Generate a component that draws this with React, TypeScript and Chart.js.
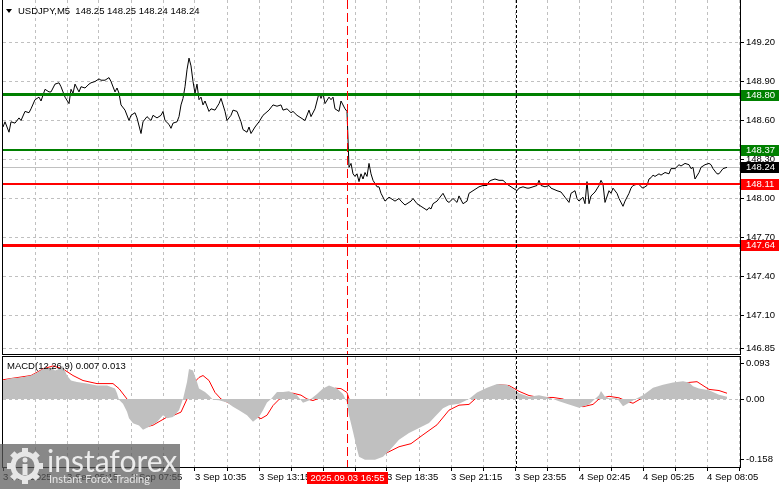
import React, { useEffect, useRef } from "react";
import { Chart, registerables } from "chart.js";

Chart.register(...registerables);

const FONT_FAMILY = "'Liberation Sans', Arial, sans-serif";
Chart.defaults.font.family = FONT_FAMILY;
Chart.defaults.font.size = 9.5;
Chart.defaults.color = "#000";

// ---------- header ----------
const symbolTitle = "USDJPY,M5";
const ohlcValues = [148.25, 148.25, 148.24, 148.24];

// ---------- price pane ----------
const priceTicks = [149.2, 148.9, 148.6, 148.3, 148.0, 147.7, 147.4, 147.1, 146.85];
const priceMin = 146.804;
const priceMax = 149.527;
const levelValues = [148.8, 148.37, 148.11, 147.64];
const lastPrice = 148.24;

const priceBars = [
  0, 1, 3, 4, 6, 8, 9, 11, 13, 14,
  16, 18, 19, 21, 23, 24, 26, 28, 29, 31,
  33, 34, 35, 36, 38, 39, 41, 43, 44, 46,
  48, 49, 51, 53, 54, 56, 57, 58, 59, 61,
  63, 64, 66, 67, 69, 70, 72, 74, 75, 77,
  79, 80, 81, 83, 84, 85, 87, 88, 89, 90,
  91, 92, 93, 94, 95, 96, 97, 98, 99, 100,
  101, 103, 104, 106, 108, 109, 111, 112, 114, 115,
  117, 119, 120, 122, 123, 124, 126, 128, 130, 133,
  135, 137, 139, 140, 142, 144, 145, 147, 149, 151,
  153, 154, 156, 158, 159, 160, 161, 163, 164, 165,
  166, 168, 169, 171, 172, 173, 174, 175, 176, 177,
  178, 179, 180, 181, 182, 183, 184, 185, 187, 188,
  189, 191, 193, 194, 196, 198, 199, 201, 203, 204,
  205, 207, 208, 210, 212, 213, 214, 215, 217, 218,
  220, 222, 223, 225, 227, 228, 230, 232, 233, 235,
  237, 238, 240, 242, 243, 244, 246, 248, 250, 252,
  253, 255, 257, 258, 260, 262, 263, 265, 267, 268,
  269, 271, 273, 274, 277, 279, 281, 283, 284, 286,
  287, 288, 290, 291, 292, 293, 294, 296, 298, 299,
  300, 301, 303, 304, 305, 307, 308, 310, 311, 313,
  314, 315, 317, 318, 319, 320, 322, 323, 324, 325,
  326, 328, 329, 331, 333, 334, 336, 338, 339, 341,
  343, 344, 345, 346, 348, 349, 351, 353, 354, 355,
  357, 358, 360, 362,
];
const priceValues = [
  148.55, 148.59, 148.51, 148.59, 148.58, 148.62, 148.6, 148.67, 148.66, 148.69,
  148.76, 148.78, 148.75, 148.84, 148.82, 148.82, 148.88, 148.89, 148.86, 148.78,
  148.73, 148.84, 148.81, 148.88, 148.82, 148.86, 148.85, 148.88, 148.89, 148.9,
  148.92, 148.91, 148.91, 148.93, 148.9, 148.82, 148.85, 148.81, 148.72, 148.68,
  148.6, 148.64, 148.66, 148.62, 148.5, 148.59, 148.63, 148.6, 148.64, 148.62,
  148.64, 148.67, 148.6, 148.57, 148.54, 148.58, 148.59, 148.63, 148.72, 148.77,
  148.86, 148.99, 149.08, 149.02, 148.9, 148.81, 148.88, 148.76, 148.78, 148.72,
  148.75, 148.67, 148.69, 148.68, 148.73, 148.77, 148.67, 148.6, 148.64, 148.68,
  148.67, 148.59, 148.53, 148.51, 148.55, 148.5, 148.55, 148.59, 148.64, 148.68,
  148.72, 148.71, 148.72, 148.68, 148.69, 148.66, 148.67, 148.64, 148.62, 148.6,
  148.68, 148.63, 148.69, 148.81, 148.77, 148.81, 148.73, 148.78, 148.76, 148.78,
  148.69, 148.67, 148.75, 148.69, 148.67, 148.24, 148.27, 148.19, 148.17, 148.19,
  148.13, 148.19, 148.15, 148.2, 148.17, 148.27, 148.19, 148.14, 148.09, 148.09,
  148.04, 147.98, 148.01, 148.0, 147.98, 148.0, 147.98, 147.95, 147.97, 147.98,
  148.0, 147.96, 147.95, 147.93, 147.91, 147.93, 147.92, 147.96, 147.98, 148.0,
  148.04, 147.98, 147.97, 148.0, 147.97, 148.02, 147.96, 147.98, 148.04, 148.06,
  148.08, 148.09, 148.1, 148.1, 148.13, 148.14, 148.15, 148.14, 148.14, 148.11,
  148.1, 148.08, 148.06, 148.08, 148.09, 148.08, 148.08, 148.09, 148.1, 148.14,
  148.1, 148.09, 148.1, 148.08, 148.06, 148.05, 148.01, 147.97, 148.04, 148.06,
  148.0, 147.98, 148.01, 147.96, 148.13, 147.96, 148.02, 148.05, 148.1, 148.14,
  148.11, 147.97, 148.06, 148.04, 148.08, 148.04, 148.0, 147.94, 147.98, 148.04,
  148.08, 148.1, 148.11, 148.11, 148.09, 148.08, 148.1, 148.15, 148.16, 148.18,
  148.17, 148.19, 148.18, 148.2, 148.19, 148.23, 148.23, 148.26, 148.25, 148.27,
  148.26, 148.23, 148.24, 148.15, 148.2, 148.24, 148.26, 148.27, 148.26, 148.23,
  148.19, 148.19, 148.23, 148.24,
];

// ---------- time axis ----------
const barsMax = 368.5;
const timeLabelBars = [0, 32, 64, 96, 128, 160, 192, 224, 256, 288, 320, 352];
const timeLabels = [
  "3 Sep 2025", "3 Sep 05:15", "3 Sep 07:55", "3 Sep 10:35", "3 Sep 13:15", "3 Sep 15:55",
  "3 Sep 18:35", "3 Sep 21:15", "3 Sep 23:55", "4 Sep 02:45", "4 Sep 05:25", "4 Sep 08:05",
];
const crosshairBar = 172;
const crosshairLabel = "2025.09.03 16:55";
const daySeparatorBar = 256.5;

// ---------- MACD pane ----------
const macdTitle = "MACD(12,26,9)";
const macdCurrent = [0.007, 0.013];
const macdTicks = [0.093, 0, -0.158];
const macdTickLabels = ["0.093", "0.00", "-0.158"];
const macdMin = -0.1766;
const macdMax = 0.1091;

const histBars = [
  0, 4, 9, 14, 17, 20, 24, 26, 28, 30,
  32, 34, 37, 42, 47, 52, 56, 57, 58, 60,
  62, 63, 65, 68, 70, 73, 77, 80, 82, 85,
  88, 90, 92, 93, 95, 97, 98, 101, 103, 105,
  108, 112, 115, 118, 122, 125, 128, 130, 132, 134,
  137, 140, 143, 147, 150, 153, 157, 160, 163, 167,
  170, 172, 173, 175, 177, 178, 181, 186, 190, 193,
  198, 203, 208, 213, 217, 220, 223, 228, 233, 237,
  242, 247, 252, 255, 258, 263, 268, 273, 278, 283,
  288, 293, 298, 299, 301, 303, 307, 310, 313, 317,
  320, 325, 330, 335, 340, 343, 345, 348, 353, 358,
  362,
];
const histValues = [
  0.048, 0.054, 0.056, 0.061, 0.069, 0.078, 0.082, 0.074, 0.078, 0.086,
  0.061, 0.048, 0.044, 0.04, 0.035, 0.035, 0.027, 0.015, -0.002, -0.012,
  -0.033, -0.05, -0.063, -0.069, -0.08, -0.072, -0.06, -0.042, -0.05, -0.047,
  -0.029, 0.0, 0.044, 0.078, 0.074, 0.044, 0.027, 0.018, 0.009, -0.002,
  -0.003, -0.009, -0.02, -0.029, -0.042, -0.059, -0.047, -0.029, -0.009, 0.0,
  0.018, 0.018, 0.02, 0.01, -0.01, -0.004, 0.013, 0.027, 0.035, 0.027,
  0.013, -0.009, -0.042, -0.085, -0.13, -0.15, -0.158, -0.158, -0.15, -0.135,
  -0.106, -0.088, -0.075, -0.062, -0.04, -0.024, -0.016, -0.012, 0.0, 0.017,
  0.029, 0.039, 0.037, 0.027, 0.015, 0.006, 0.01, 0.004, -0.006, -0.014,
  -0.023, -0.014, 0.01, 0.021, 0.006, 0.002, 0.002, -0.019, -0.01, 0.002,
  0.01, 0.029, 0.037, 0.043, 0.046, 0.043, 0.033, 0.027, 0.023, 0.011,
  0.006,
];

const signalBars = [
  0, 5, 14, 20, 25, 30, 35, 40, 47, 55,
  58, 62, 65, 69, 72, 75, 79, 82, 85, 89,
  92, 94, 98, 100, 103, 106, 109, 114, 119, 122,
  125, 129, 132, 135, 139, 142, 145, 149, 152, 155,
  159, 163, 166, 169, 172, 174, 177, 180, 184, 189,
  193, 198, 204, 210, 217, 223, 228, 233, 238, 243,
  248, 253, 258, 263, 268, 275, 280, 285, 290, 295,
  298, 303, 308, 312, 315, 318, 323, 328, 333, 338,
  343, 347, 350, 353, 358, 362,
];
const signalValues = [
  0.05, 0.054, 0.061, 0.078, 0.086, 0.078, 0.061, 0.048, 0.04, 0.04,
  0.027, 0.0, -0.034, -0.06, -0.072, -0.068, -0.056, -0.047, -0.043, -0.034,
  0.0, 0.034, 0.056, 0.061, 0.048, 0.017, 0.0, -0.013, -0.021, -0.028,
  -0.042, -0.051, -0.042, -0.017, 0.004, 0.015, 0.015, 0.01, 0.0, -0.004,
  0.004, 0.017, 0.028, 0.027, 0.017, -0.017, -0.06, -0.114, -0.15, -0.147,
  -0.137, -0.124, -0.116, -0.093, -0.067, -0.029, -0.016, -0.014, 0.009, 0.027,
  0.037, 0.035, 0.02, 0.009, 0.004, 0.004, 0.0, -0.014, -0.02, -0.014,
  0.0, 0.007, 0.003, -0.006, -0.011, -0.002, 0.014, 0.025, 0.035, 0.04,
  0.043, 0.045, 0.035, 0.025, 0.022, 0.015,
];

// ---------- styling ----------
const GRID = "#c0c0c0";
const GREEN = "#008000";
const RED = "#ff0000";
const levelColors = [GREEN, GREEN, RED, RED];
const levelWidths = [3, 2, 2, 3];
const TAG_FONT = `9.5px ${FONT_FAMILY}`;

function gridEvery16(scale: any) {
  const t: any[] = [];
  for (let v = 0; v <= barsMax; v += 16) t.push({ value: v });
  scale.ticks = t;
}

function zeroPadding(s: any) {
  s.paddingTop = 0;
  s.paddingBottom = 0;
  s.paddingLeft = 0;
  s.paddingRight = 0;
}

function drawVLine(ctx: any, x: number, y0: number, y1: number, color: string, dash: number[]) {
  ctx.save();
  ctx.strokeStyle = color;
  ctx.lineWidth = 1;
  ctx.setLineDash(dash);
  ctx.beginPath();
  ctx.moveTo(Math.round(x) + 0.5, y0);
  ctx.lineTo(Math.round(x) + 0.5, y1);
  ctx.stroke();
  ctx.restore();
}

function drawTag(chart: any, value: number, bg: string, fg: string) {
  const { ctx, chartArea: a, scales } = chart;
  const py = Math.round(scales.y.getPixelForValue(value));
  ctx.save();
  ctx.fillStyle = bg;
  ctx.fillRect(a.right + 1, py - 5, 38, 11);
  ctx.fillStyle = fg;
  ctx.font = TAG_FONT;
  ctx.textBaseline = "middle";
  ctx.textAlign = "left";
  ctx.fillText(value.toFixed(2), a.right + 6, py + 0.5);
  ctx.restore();
}

const mainOverlay = {
  id: "mainOverlay",
  beforeDatasetsDraw(chart: any) {
    const { ctx, chartArea: a, scales } = chart;
    const py = Math.round(scales.y.getPixelForValue(lastPrice));
    ctx.save();
    ctx.fillStyle = GRID;
    ctx.fillRect(a.left, py, a.right - a.left, 1);
    ctx.restore();
  },
  afterDatasetsDraw(chart: any) {
    const { ctx, chartArea: a, scales } = chart;
    ctx.save();
    levelValues.forEach((v, i) => {
      const py = scales.y.getPixelForValue(v);
      const w = levelWidths[i];
      ctx.fillStyle = levelColors[i];
      ctx.fillRect(a.left, Math.round(py - w / 2), a.right - a.left, w);
    });
    ctx.restore();
    drawVLine(ctx, scales.x.getPixelForValue(daySeparatorBar), 0, a.bottom, "#000", [3, 2]);
    drawVLine(ctx, scales.x.getPixelForValue(crosshairBar), 0, a.bottom, RED, [9, 4]);
  },
  afterDraw(chart: any) {
    const { ctx, chartArea: a } = chart;
    ctx.save();
    ctx.fillStyle = "#000";
    ctx.fillRect(a.left - 1, 0, 1, a.bottom + 1);
    ctx.restore();
    drawTag(chart, levelValues[0], GREEN, "#fff");
    drawTag(chart, levelValues[1], GREEN, "#fff");
    drawTag(chart, lastPrice, "#000", "#fff");
    drawTag(chart, levelValues[2], RED, "#fff");
    drawTag(chart, levelValues[3], RED, "#fff");
  },
};

const macdOverlay = {
  id: "macdOverlay",
  afterDatasetsDraw(chart: any) {
    const { ctx, chartArea: a, scales } = chart;
    drawVLine(ctx, scales.x.getPixelForValue(daySeparatorBar), 0, a.bottom, "#000", [3, 2]);
    drawVLine(ctx, scales.x.getPixelForValue(crosshairBar), 0, a.bottom, RED, [9, 4]);
  },
  afterDraw(chart: any) {
    const { ctx, chartArea: a, scales } = chart;
    ctx.save();
    ctx.fillStyle = "#000";
    ctx.fillRect(a.left - 1, 0, a.right - a.left + 2, 1);
    ctx.fillRect(a.left - 1, 0, 1, a.bottom + 1);
    const cx = Math.round(scales.x.getPixelForValue(crosshairBar));
    ctx.fillStyle = RED;
    ctx.fillRect(cx - 40, a.bottom + 5, 81, 12);
    ctx.fillStyle = "#fff";
    ctx.font = TAG_FONT;
    ctx.textAlign = "center";
    ctx.textBaseline = "middle";
    ctx.fillText(crosshairLabel, cx + 0.5, a.bottom + 11.5);
    ctx.restore();
  },
};

export default function App() {
  const mainRef = useRef<HTMLCanvasElement | null>(null);
  const macdRef = useRef<HTMLCanvasElement | null>(null);

  useEffect(() => {
    const pricePoints = priceBars.map((b, i) => ({ x: b, y: priceValues[i] }));
    const histPoints = histBars.map((b, i) => ({ x: b, y: histValues[i] }));
    const signalPoints = signalBars.map((b, i) => ({ x: b, y: signalValues[i] }));

    const vGridColor = (c: any) => (c.tick && c.tick.value === 0 ? "rgba(0,0,0,0)" : GRID);

    const main = new Chart(mainRef.current as HTMLCanvasElement, {
      type: "line",
      data: {
        datasets: [
          {
            data: pricePoints,
            borderColor: "#000",
            borderWidth: 1,
            pointRadius: 0,
            tension: 0,
            fill: false,
          },
        ],
      },
      options: {
        animation: false,
        responsive: false,
        devicePixelRatio: 1,
        events: [],
        layout: { padding: { left: 3, top: 0, right: 0, bottom: 2 } },
        plugins: { legend: { display: false }, tooltip: { enabled: false } },
        scales: {
          x: {
            type: "linear",
            min: 0,
            max: barsMax,
            afterBuildTicks: gridEvery16,
            afterFit: (s: any) => {
              s.height = 0;
              zeroPadding(s);
            },
            ticks: { display: false },
            grid: { color: vGridColor, drawTicks: false, lineWidth: 1 },
            border: { display: true, color: "#000", dash: [3, 3] },
          },
          y: {
            type: "linear",
            position: "right",
            min: priceMin,
            max: priceMax,
            afterBuildTicks: (s: any) => {
              s.ticks = priceTicks.map((v) => ({ value: v }));
            },
            afterFit: (s: any) => {
              s.width = 41;
              zeroPadding(s);
            },
            ticks: {
              autoSkip: false,
              padding: 2,
              color: "#000",
              font: { size: 9.5, family: FONT_FAMILY },
              callback: (v: any) => Number(v).toFixed(2),
            },
            grid: { color: GRID, tickColor: "#000", tickLength: 4, drawTicks: true },
            border: { display: true, color: "#000", dash: [3, 3] },
          },
        },
      } as any,
      plugins: [mainOverlay],
    });

    const macd = new Chart(macdRef.current as HTMLCanvasElement, {
      type: "line",
      data: {
        datasets: [
          {
            data: histPoints,
            borderWidth: 0,
            borderColor: "rgba(0,0,0,0)",
            backgroundColor: "#c0c0c0",
            pointRadius: 0,
            tension: 0,
            fill: "origin",
          },
          {
            data: signalPoints,
            borderColor: RED,
            borderWidth: 1,
            pointRadius: 0,
            tension: 0,
            fill: false,
          },
        ],
      },
      options: {
        animation: false,
        responsive: false,
        devicePixelRatio: 1,
        events: [],
        layout: { padding: { left: 3, top: 1, right: 0, bottom: 0 } },
        plugins: { legend: { display: false }, tooltip: { enabled: false } },
        scales: {
          x: {
            type: "linear",
            min: 0,
            max: barsMax,
            afterBuildTicks: gridEvery16,
            afterFit: (s: any) => {
              s.height = 22;
              zeroPadding(s);
            },
            ticks: {
              autoSkip: false,
              maxRotation: 0,
              minRotation: 0,
              align: "start",
              padding: 1,
              color: "#000",
              font: { size: 9.5, family: FONT_FAMILY },
              callback: (v: any) => {
                const i = timeLabelBars.indexOf(Number(v));
                return i >= 0 ? timeLabels[i] : "";
              },
            },
            grid: { color: vGridColor, tickColor: "#000", tickLength: 4, drawTicks: true },
            border: { display: true, color: "#000", dash: [3, 3] },
          },
          y: {
            type: "linear",
            position: "right",
            min: macdMin,
            max: macdMax,
            afterBuildTicks: (s: any) => {
              s.ticks = macdTicks.map((v) => ({ value: v }));
            },
            afterFit: (s: any) => {
              s.width = 41;
              zeroPadding(s);
            },
            ticks: {
              autoSkip: false,
              padding: 2,
              color: "#000",
              font: { size: 9.5, family: FONT_FAMILY },
              callback: (v: any) => {
                const i = macdTicks.indexOf(Number(v));
                return i >= 0 ? macdTickLabels[i] : "";
              },
            },
            grid: {
              color: (c: any) => (c.tick && c.tick.value === 0 ? GRID : "rgba(0,0,0,0)"),
              tickColor: "#000",
              tickLength: 4,
              drawTicks: true,
            },
            border: { display: true, color: "#000", dash: [3, 3] },
          },
        },
      } as any,
      plugins: [macdOverlay],
    });

    return () => {
      main.destroy();
      macd.destroy();
    };
  }, []);

  const textStyle: React.CSSProperties = {
    position: "absolute",
    fontFamily: FONT_FAMILY,
    fontSize: "9.5px",
    lineHeight: "11px",
    color: "#000",
    whiteSpace: "pre",
  };

  const teeth = Array.from({ length: 8 }, (_, i) => i * 45);

  return (
    <div
      style={{
        position: "fixed",
        left: 0,
        top: 0,
        width: 781,
        height: 489,
        background: "#fff",
        overflow: "hidden",
      }}
    >
      <canvas
        ref={mainRef}
        width={781}
        height={356}
        style={{ position: "absolute", left: 0, top: 0, width: 781, height: 356, display: "block" }}
      />
      <canvas
        ref={macdRef}
        width={781}
        height={133}
        style={{ position: "absolute", left: 0, top: 356, width: 781, height: 133, display: "block" }}
      />
      <div
        style={{
          position: "absolute",
          left: 6,
          top: 9,
          width: 0,
          height: 0,
          borderLeft: "3px solid transparent",
          borderRight: "3px solid transparent",
          borderTop: "4px solid #000",
        }}
      />
      <div style={{ ...textStyle, left: 18, top: 5 }}>
        {`${symbolTitle}  ${ohlcValues.map((v) => v.toFixed(2)).join(" ")}`}
      </div>
      <div style={{ ...textStyle, left: 7, top: 360 }}>
        {`${macdTitle} ${macdCurrent.map((v) => v.toFixed(3)).join(" ")}`}
      </div>
      <div
        style={{
          position: "absolute",
          left: 0,
          top: 444,
          width: 180,
          height: 45,
          background: "rgba(90,90,90,0.72)",
        }}
      >
        <svg
          width={40}
          height={38}
          style={{ position: "absolute", left: 5, top: 3 }}
          viewBox="0 0 40 38"
        >
          <g fill="#e6e6e6">
            {teeth.map((a) => (
              <rect key={a} x={17} y={1} width={6} height={8} transform={`rotate(${a} 20 19)`} />
            ))}
          </g>
          <circle cx={20} cy={19} r={12} fill="none" stroke="#e6e6e6" strokeWidth={5} />
          <circle cx={20} cy={13} r={2.5} fill="#e6e6e6" />
          <rect x={17.5} y={17} width={5} height={11} fill="#e6e6e6" />
        </svg>
        <div
          style={{
            position: "absolute",
            left: 47,
            top: 1,
            fontFamily: "Lato, 'Open Sans', sans-serif",
            fontSize: "30px",
            lineHeight: "30px",
            color: "#ececec",
            whiteSpace: "pre",
          }}
        >
          instaforex
        </div>
        <div
          style={{
            position: "absolute",
            left: 49,
            top: 29,
            fontFamily: "Lato, 'Open Sans', sans-serif",
            fontSize: "11px",
            lineHeight: "11px",
            color: "#e6e6e6",
            whiteSpace: "pre",
          }}
        >
          Instant Forex Trading
        </div>
      </div>
    </div>
  );
}
